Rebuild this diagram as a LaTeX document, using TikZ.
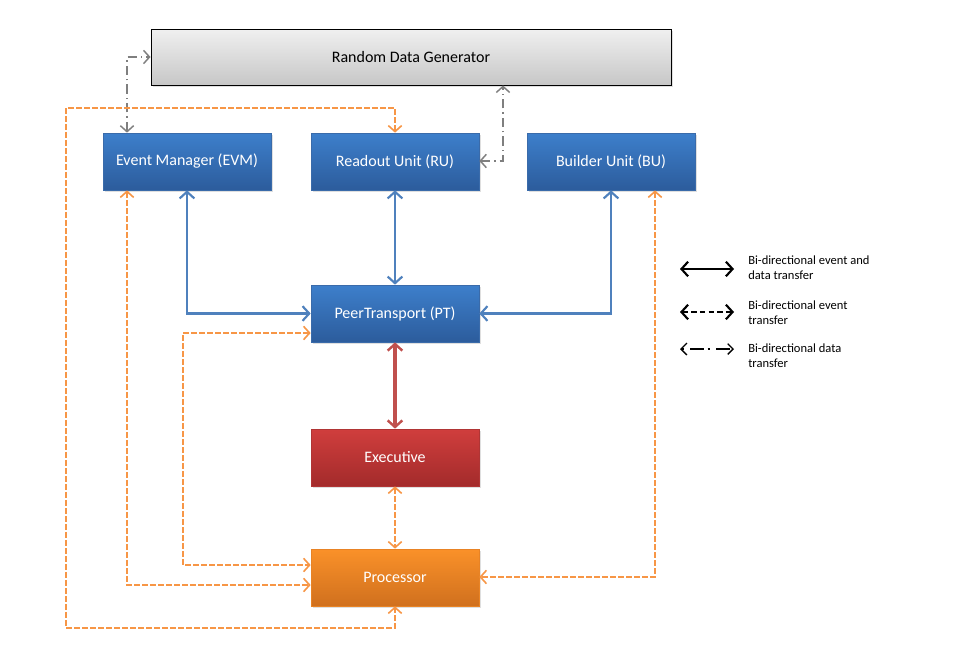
\documentclass[tikz,border=0pt]{standalone}
\usepackage{fontspec}
\setmainfont{Carlito}
\usetikzlibrary{arrows.meta,calc,shadows}
\definecolor{bluetop}{HTML}{3D7FCB}
\definecolor{bluebot}{HTML}{2C5C9C}
\definecolor{blueedge}{HTML}{3A6BAA}
\definecolor{redtop}{HTML}{D03E3D}
\definecolor{redbot}{HTML}{A32B2B}
\definecolor{rededge}{HTML}{B03535}
\definecolor{ortop}{HTML}{FA9129}
\definecolor{orbot}{HTML}{D0701E}
\definecolor{oredge}{HTML}{E88325}
\definecolor{linkblue}{HTML}{4F81BD}
\definecolor{linkorange}{HTML}{F79646}
\definecolor{linkred}{HTML}{C0504D}
\definecolor{linkgray}{HTML}{7F7F7F}
\tikzset{
  box/.style={rectangle, minimum width=126pt, minimum height=42.75pt, inner sep=0pt,
    font=\fontsize{12}{14}\selectfont, text=white,
    drop shadow={shadow xshift=1.2pt, shadow yshift=-1.2pt, opacity=0.25}},
  bluebox/.style={box, top color=bluetop, bottom color=bluebot, draw=blueedge, line width=0.5pt},
  redbox/.style={box, top color=redtop, bottom color=redbot, draw=rededge, line width=0.5pt},
  orbox/.style={box, top color=ortop, bottom color=orbot, draw=oredge, line width=0.5pt},
  graybox/.style={rectangle, minimum width=390pt, minimum height=42pt, inner sep=0pt,
    font=\fontsize{12}{14}\selectfont, text=black, draw=black, line width=0.7pt,
    top color=white!94!black, bottom color=white!78!black,
    drop shadow={shadow xshift=1.2pt, shadow yshift=-1.2pt, opacity=0.25}},
  bluelink/.style={draw=linkblue, line width=2pt, {Straight Barb[length=5pt,width=11pt,line width=1.6pt]}-{Straight Barb[length=5pt,width=11pt,line width=1.6pt]}},
  redlink/.style={draw=linkred, line width=2.5pt, {Straight Barb[length=5pt,width=11pt,line width=1.8pt]}-{Straight Barb[length=5pt,width=11pt,line width=1.8pt]}},
  orlink/.style={draw=linkorange, line width=1.4pt, dash pattern=on 4pt off 2pt,
    {Straight Barb[length=4.5pt,width=10pt,line width=1.2pt]}-{Straight Barb[length=4.5pt,width=10pt,line width=1.2pt]}},
  graylink/.style={draw=linkgray, line width=1.1pt, dash pattern=on 7pt off 3pt on 1pt off 3pt,
    {Straight Barb[length=4.5pt,width=10pt,line width=1.1pt]}-{Straight Barb[length=4.5pt,width=10pt,line width=1.1pt]}},
  legtext/.style={anchor=west, align=left, font=\fontsize{9.4}{11.5}\selectfont, inner sep=0pt},
  legarrow/.style={draw=black, line width=1.6pt, {Straight Barb[length=5pt,width=11pt,line width=1.6pt]}-{Straight Barb[length=5pt,width=11pt,line width=1.6pt]}}
}
\begin{document}
\begin{tikzpicture}[x=0.75pt, y=-0.75pt]
\useasboundingbox[fill=white] (0,0) rectangle (961,665);

\node[graybox] (rdg) at (411,57) {Random Data Generator};
\node[bluebox] (evm) at (187,161.5) {Event Manager (EVM)};
\node[bluebox] (ru) at (395,161.5) {Readout Unit (RU)};
\node[bluebox] (bu) at (611,161.5) {Builder Unit (BU)};
\node[bluebox] (pt) at (395,313.5) {PeerTransport (PT)};
\node[redbox] (exec) at (395,457.5) {Executive};
\node[orbox] (proc) at (395,577.5) {Processor};

% coordinates for bends
\coordinate (g1) at (127,57);
\coordinate (g2) at (503,161);
\coordinate (o1) at (66,108);
\coordinate (o2) at (66,628);
\coordinate (e1) at (127,585);
\coordinate (b1) at (183,333);
\coordinate (b2) at (183,565);
\coordinate (f1) at (655,577);

% gray dash-dot
\draw[graylink] (g1 |- evm.north) -- (g1) -- (rdg.west);
\draw[graylink] (g2 -| ru.east) -- (g2) -- (g2 |- rdg.south);

% orange dashed
\draw[orlink] (ru.north) |- (o1) -- (o2) -| (proc.south);
\draw[orlink] (e1 |- evm.south) -- (e1) -- (e1 -| proc.west);
\draw[orlink] (b1 -| pt.west) -- (b1) -- (b2) -- (b2 -| proc.west);
\draw[orlink] (f1 |- bu.south) -- (f1) -- (f1 -| proc.east);
\draw[orlink] (exec.south) -- (proc.north);

% blue
\draw[bluelink] (evm.south) |- (pt.west);
\draw[bluelink] (ru.south) -- (pt.north);
\draw[bluelink] (bu.south) |- (pt.east);

% red
\draw[redlink] (pt.south) -- (exec.north);

% legend
\coordinate (l1a) at (680,269);
\coordinate (l1b) at (734,269);
\coordinate (l2a) at (680,312);
\coordinate (l2b) at (734,312);
\coordinate (l3a) at (680,349);
\coordinate (l3b) at (734,349);
\draw[legarrow] (l1a) -- (l1b);
\draw[legarrow, dash pattern=on 4pt off 2.5pt] (l2a) -- (l2b);
\draw[draw=black, line width=1pt, dash pattern=on 1.5pt off 5pt on 10pt off 3pt,
  {Straight Barb[length=4.5pt,width=9pt,line width=1pt]}-{Straight Barb[length=4pt,width=8pt,line width=1pt]}] (l3a) -- (l3b);
\node[legtext] (lg1) at (748,267.5) {Bi-directional event and\\ data transfer};
\node[legtext] (lg2) at (748,312.5) {Bi-directional event\\ transfer};
\node[legtext] (lg3) at (748,356) {Bi-directional data\\ transfer};
\end{tikzpicture}
\end{document}
